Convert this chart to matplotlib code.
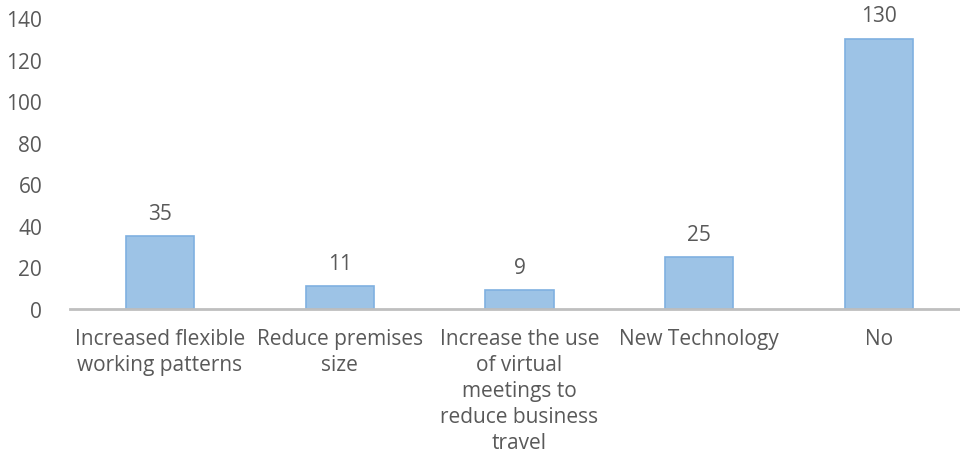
import matplotlib
matplotlib.use('Agg')
import matplotlib.pyplot as plt

categories = ['Increased flexible\nworking patterns', 'Reduce premises\nsize',
              'Increase the use\nof virtual\nmeetings to\nreduce business\ntravel',
              'New Technology', 'No']
values = [35, 11, 9, 25, 130]
yticks = [0, 20, 40, 60, 80, 100, 120, 140]

plt.rcParams['font.family'] = ['Open Sans', 'DejaVu Sans']
GREY = '#595959'
FS = 15

fig = plt.figure(figsize=(9.6, 4.6), dpi=100)
ax = fig.add_axes([70 / 960, 1 - 310 / 460, 1 - 70 / 960, (310 - 19) / 460])

x = list(range(len(values)))
bars = ax.bar(x, values, width=0.38, color='#9dc3e6', edgecolor='#7fb0e0', linewidth=1.2)
for b, v in zip(bars, values):
    ax.text(b.get_x() + b.get_width() / 2, v + 6, str(v), ha='center', va='bottom',
            fontsize=FS, color=GREY)

ax.set_xlim(-0.5, 4.45)
ax.set_ylim(0, 140)
ax.set_yticks(yticks)
ax.set_yticklabels([str(t) for t in yticks], fontsize=FS, color=GREY)
ax.set_xticks(x)
ax.set_xticklabels(categories, fontsize=FS, color=GREY, linespacing=1.3, va='top')
ax.tick_params(axis='both', length=0)
ax.tick_params(axis='y', pad=20)
ax.tick_params(axis='x', pad=14)

for s in ['top', 'right', 'left']:
    ax.spines[s].set_visible(False)
ax.spines['bottom'].set_color('#bfbfbf')
ax.spines['bottom'].set_linewidth(2)

fig.savefig('out.png', dpi=100)
